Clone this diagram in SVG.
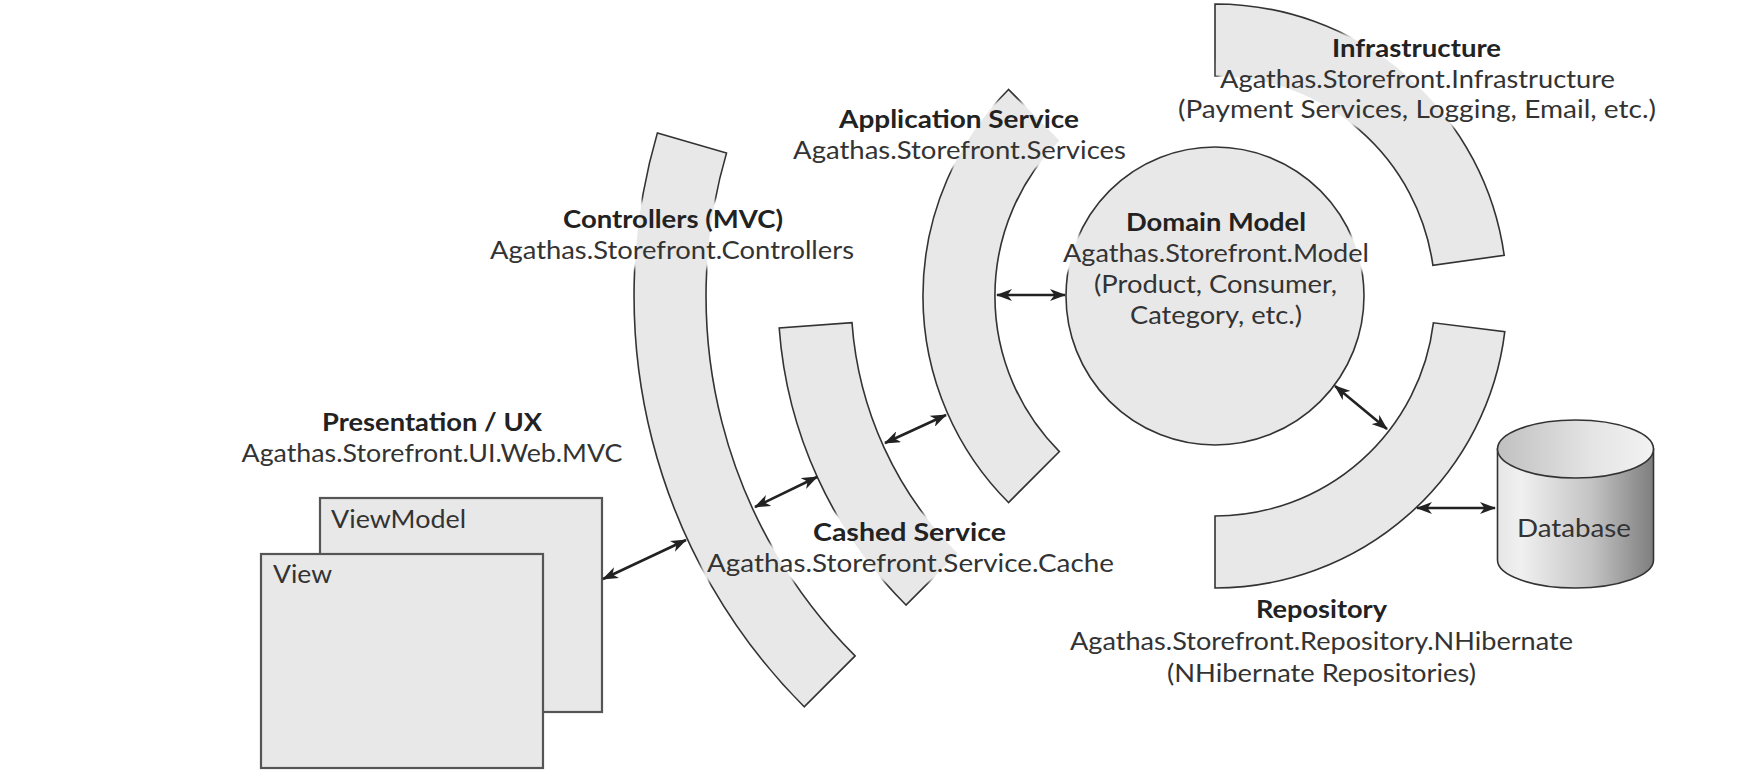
<svg xmlns="http://www.w3.org/2000/svg" width="1738" height="778" viewBox="0 0 1738 778">
<style>
.fill{fill:#e8e8e8;stroke:none}
.edge{fill:none;stroke:#333;stroke-width:1.6}
.box{fill:#e8e8e8;stroke:#555;stroke-width:2.2}
text{font-family:Lato,"Liberation Sans",sans-serif;font-size:25px;fill:#333}
.b{font-weight:700;fill:#222}
.c{text-anchor:middle}
.arrow{stroke:#222;stroke-width:2.6;fill:none;marker-start:url(#ah);marker-end:url(#ah)}
</style>
<defs>
<marker id="ah" viewBox="0 0 16 12" refX="15" refY="6" markerWidth="16" markerHeight="12" markerUnits="userSpaceOnUse" orient="auto-start-reverse">
<path d="M0,0 L16,6 L0,12 L4.5,6 Z" fill="#222"/>
</marker>
<filter id="soft" x="-10%" y="-30%" width="120%" height="160%"><feGaussianBlur stdDeviation="2.5"/></filter>
<mask id="knock" maskUnits="userSpaceOnUse" x="0" y="0" width="1738" height="778">
<rect x="0" y="0" width="1738" height="778" fill="#fff"/>
<g fill="#000" filter="url(#soft)">
<rect x="553" y="201" width="240" height="36"/>
<rect x="484" y="232" width="376" height="36"/>
<rect x="831" y="102" width="256" height="35"/>
<rect x="785" y="132" width="349" height="36"/>
<rect x="1118" y="204" width="196" height="36"/>
<rect x="1055" y="235" width="322" height="36"/>
<rect x="1086" y="266" width="259" height="36"/>
<rect x="1122" y="297" width="188" height="36"/>
<rect x="1324" y="34" width="185" height="32"/>
<rect x="1219" y="61" width="404" height="36"/>
<rect x="1170" y="91" width="494" height="36"/>
<rect x="805" y="514" width="209" height="36"/>
<rect x="702" y="545" width="420" height="36"/>
</g>
</mask>
<linearGradient id="side" x1="0" y1="0" x2="1" y2="0">
<stop offset="0" stop-color="#e6e6e6"/>
<stop offset="0.15" stop-color="#f0f0f0"/>
<stop offset="0.6" stop-color="#c4c4c4"/>
<stop offset="1" stop-color="#7e7e7e"/>
</linearGradient>
<linearGradient id="top" x1="0" y1="0" x2="1" y2="0">
<stop offset="0" stop-color="#c0c0c0"/>
<stop offset="0.6" stop-color="#e4e4e4"/>
<stop offset="1" stop-color="#f2f2f2"/>
</linearGradient>
</defs>

<g id="presentation">
<rect class="box" x="320" y="498" width="282" height="214"/>
<text x="331" y="528" textLength="135" lengthAdjust="spacingAndGlyphs">ViewModel</text>
<rect class="box" x="261" y="554" width="282" height="214"/>
<text x="273" y="583" textLength="59" lengthAdjust="spacingAndGlyphs">View</text>
<text class="b c" x="432" y="431" textLength="220" lengthAdjust="spacingAndGlyphs">Presentation / UX</text>
<text class="c" x="432" y="462" textLength="381" lengthAdjust="spacingAndGlyphs">Agathas.Storefront.UI.Web.MVC</text>
</g>

<g id="controllers">
<path class="fill" d="M804.2,706.8 A581,581 0 0 1 657.4,132.9 L726.5,153.1 A509,509 0 0 0 855.1,655.9 Z"/>
<path class="edge" mask="url(#knock)" d="M804.2,706.8 A581,581 0 0 1 657.4,132.9 L726.5,153.1 A509,509 0 0 0 855.1,655.9 Z"/>
<text class="b c" x="673" y="228" textLength="220" lengthAdjust="spacingAndGlyphs">Controllers (MVC)</text>
<text class="c" x="672" y="259" textLength="364" lengthAdjust="spacingAndGlyphs">Agathas.Storefront.Controllers</text>
</g>

<g id="cached-service">
<path class="fill" d="M906,605 A437,437 0 0 1 779.2,328 L852,322.7 A364,364 0 0 0 957.6,553.4 Z"/>
<path class="edge" mask="url(#knock)" d="M906,605 A437,437 0 0 1 779.2,328 L852,322.7 A364,364 0 0 0 957.6,553.4 Z"/>
<text class="b c" x="909.5" y="541" textLength="193" lengthAdjust="spacingAndGlyphs">Cashed Service</text>
<text class="c" x="910.5" y="572" textLength="407" lengthAdjust="spacingAndGlyphs">Agathas.Storefront.Service.Cache</text>
</g>

<g id="application-service">
<path class="fill" d="M1008.5,502.5 A292,292 0 0 1 1008.5,89.5 L1059.4,140.4 A220,220 0 0 0 1059.4,451.6 Z"/>
<path class="edge" mask="url(#knock)" d="M1008.5,502.5 A292,292 0 0 1 1008.5,89.5 L1059.4,140.4 A220,220 0 0 0 1059.4,451.6 Z"/>
<text class="b c" x="959" y="128" textLength="240" lengthAdjust="spacingAndGlyphs">Application Service</text>
<text class="c" x="959.5" y="159" textLength="333" lengthAdjust="spacingAndGlyphs">Agathas.Storefront.Services</text>
</g>

<g id="domain-model">
<circle class="fill" cx="1215" cy="296" r="149"/>
<circle class="edge" mask="url(#knock)" cx="1215" cy="296" r="149"/>
<text class="b c" x="1216" y="231" textLength="180" lengthAdjust="spacingAndGlyphs">Domain Model</text>
<text class="c" x="1216" y="262" textLength="306" lengthAdjust="spacingAndGlyphs">Agathas.Storefront.Model</text>
<text class="c" x="1215.5" y="293" textLength="243" lengthAdjust="spacingAndGlyphs">(Product, Consumer,</text>
<text class="c" x="1216" y="324" textLength="172" lengthAdjust="spacingAndGlyphs">Category, etc.)</text>
</g>

<g id="infrastructure">
<path class="fill" d="M1215,4 A292,292 0 0 1 1504.2,255.4 L1432.9,265.4 A220,220 0 0 0 1215,76 Z"/>
<path class="edge" mask="url(#knock)" d="M1215,4 A292,292 0 0 1 1504.2,255.4 L1432.9,265.4 A220,220 0 0 0 1215,76 Z"/>
<text class="b c" x="1416.5" y="57" textLength="169" lengthAdjust="spacingAndGlyphs">Infrastructure</text>
<text class="c" x="1417.5" y="88" textLength="395" lengthAdjust="spacingAndGlyphs">Agathas.Storefront.Infrastructure</text>
<text class="c" x="1417" y="118" textLength="478" lengthAdjust="spacingAndGlyphs">(Payment Services, Logging, Email, etc.)</text>
</g>

<g id="repository">
<path class="fill" d="M1504.8,331.6 A292,292 0 0 1 1215,588 L1215,516 A220,220 0 0 0 1433.4,322.8 Z"/>
<path class="edge" d="M1504.8,331.6 A292,292 0 0 1 1215,588 L1215,516 A220,220 0 0 0 1433.4,322.8 Z"/>
<text class="b c" x="1321.5" y="618" textLength="131" lengthAdjust="spacingAndGlyphs">Repository</text>
<text class="c" x="1321.5" y="650" textLength="503" lengthAdjust="spacingAndGlyphs">Agathas.Storefront.Repository.NHibernate</text>
<text class="c" x="1321.5" y="682" textLength="309" lengthAdjust="spacingAndGlyphs">(NHibernate Repositories)</text>
</g>

<g id="database">
<path d="M1497.5,449 L1497.5,560 A78,28 0 0 0 1653.5,560 L1653.5,449 Z" fill="url(#side)" stroke="#333" stroke-width="1.6"/>
<ellipse cx="1575.5" cy="449" rx="78" ry="29" fill="url(#top)" stroke="#333" stroke-width="1.6"/>
<text class="c" x="1574" y="537" textLength="114" lengthAdjust="spacingAndGlyphs">Database</text>
</g>

<g id="connectors">
<line class="arrow" x1="603" y1="579" x2="686" y2="540"/>
<line class="arrow" x1="755" y1="507" x2="817" y2="477"/>
<line class="arrow" x1="885" y1="443" x2="946" y2="415"/>
<line class="arrow" x1="997" y1="295" x2="1065" y2="295"/>
<line class="arrow" x1="1335" y1="386" x2="1387" y2="429"/>
<line class="arrow" x1="1417" y1="508" x2="1495" y2="508"/>
</g>
</svg>
